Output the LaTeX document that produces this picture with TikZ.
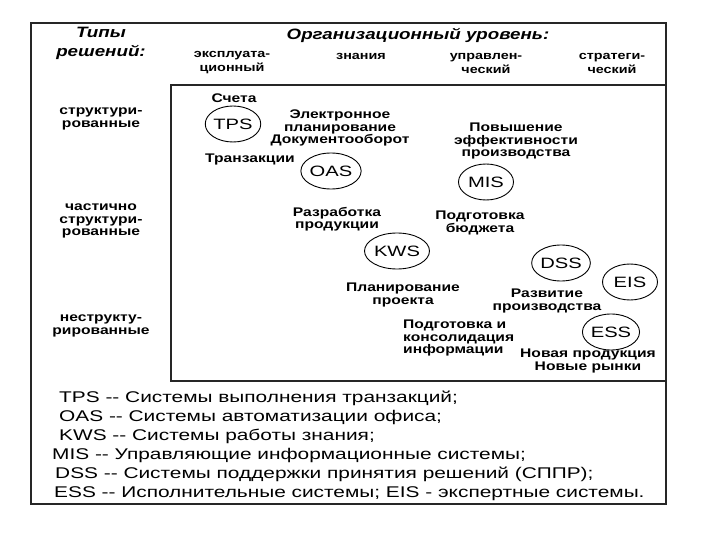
\documentclass[tikz,border=0pt]{standalone}
\usepackage{fontspec}
\setmainfont[FakeStretch=1.25]{Liberation Sans}
\newfontfamily\legendfont[FakeStretch=1.345]{Liberation Sans}
\usepackage{tikz}
\usetikzlibrary{shapes.geometric, positioning}

\begin{document}
\begin{tikzpicture}[
  x=1pt, y=-1pt,
  frame/.style={draw=black!85, line width=2pt},
  innerframe/.style={draw=black!85, line width=1.3pt},
  sys/.style={
    ellipse, draw, line width=0.9pt, minimum width=55, minimum height=36,
    inner sep=0pt, font=\legendfont\fontsize{15}{15}\selectfont,
  },
  lbl/.style={
    align=center, inner sep=0pt, font=\bfseries\fontsize{12.5}{12.5}\selectfont,
  },
  hdr/.style={
    align=center, inner sep=0pt, font=\bfseries\fontsize{11.5}{14}\selectfont,
  },
  title/.style={
    align=center, inner sep=0pt, font=\bfseries\itshape\fontsize{15}{19}\selectfont,
  },
  legend/.style={
    anchor=base west, inner sep=0pt, font=\legendfont\fontsize{15.5}{19}\selectfont,
  },
]
  \useasboundingbox (0,0) rectangle (720,540);

  % Frames
  \draw[frame] (31,23) rectangle (666,504);
  \draw[innerframe] (171,85) rectangle (666,381);

  % Headers
  \node[title] (types) at (101,43) {Типы\\решений:};
  \node[title] (orglevel) at (418,35) {Организационный уровень:};
  \node[hdr] (oper) at (232,63) {эксплуата-\\ционный};
  \node[hdr] (know) at (361,56) {знания};
  \node[hdr] (mgmt) at (486,63) {управлен-\\ческий};
  \node[hdr] (strat) at (612,63) {стратеги-\\ческий};

  % Decision types
  \node[lbl] (struct) at (101,119) {структури-\\рованные};
  \node[lbl] (semi) at (101,221) {частично\\структури-\\рованные};
  \node[lbl] (unstruct) at (101,326) {неструкту-\\рированные};

  % Systems
  \node[sys] (tps) at (233,124) {TPS};
  \node[sys] (oas) at (331,171) {OAS};
  \node[sys] (mis) at (486,182) {MIS};
  \node[sys] (kws) at (397,251) {KWS};
  \node[sys] (dss) at (561,263) {DSS};
  \node[sys] (eis) at (630,282) {EIS};
  \node[sys] (ess) at (611,332) {ESS};

  % Tasks
  \node[lbl] (bills) at (234,98) {Счета};
  \node[lbl] (trans) at (250,159) {Транзакции};
  \node[lbl] (edocs) at (340,128) {Электронное\\планирование\\Документооборот};
  \node[lbl] (prod) at (337,219) {Разработка\\продукции};
  \node[lbl] (effic) at (516,141) {Повышение\\эффективности\\производства};
  \node[lbl] (budget) at (480,223) {Подготовка\\бюджета};
  \node[lbl] (project) at (403,295) {Планирование\\проекта};
  \node[lbl] (devel) at (547,301) {Развитие\\производства};
  \node[lbl, align=left, anchor=west] (consol) at (403,338) {Подготовка и\\консолидация\\информации};
  \node[lbl] (market) at (588,361) {Новая продукция\\Новые рынки};

  % Legend
  \node[legend] (ltps) at (59,402) {TPS -{}- Системы выполнения транзакций;};
  \node[legend] (loas) at (59,421) {OAS -{}- Системы автоматизации офиса;};
  \node[legend] (lkws) at (59,440) {KWS -{}- Системы работы знания;};
  \node[legend] (lmis) at (52,459) {MIS -{}- Управляющие информационные системы;};
  \node[legend] (ldss) at (55,478) {DSS -{}- Системы поддержки принятия решений (СППР);};
  \node[legend] (less) at (54,497) {ESS -{}- Исполнительные системы; EIS - экспертные системы.};
\end{tikzpicture}
\end{document}
